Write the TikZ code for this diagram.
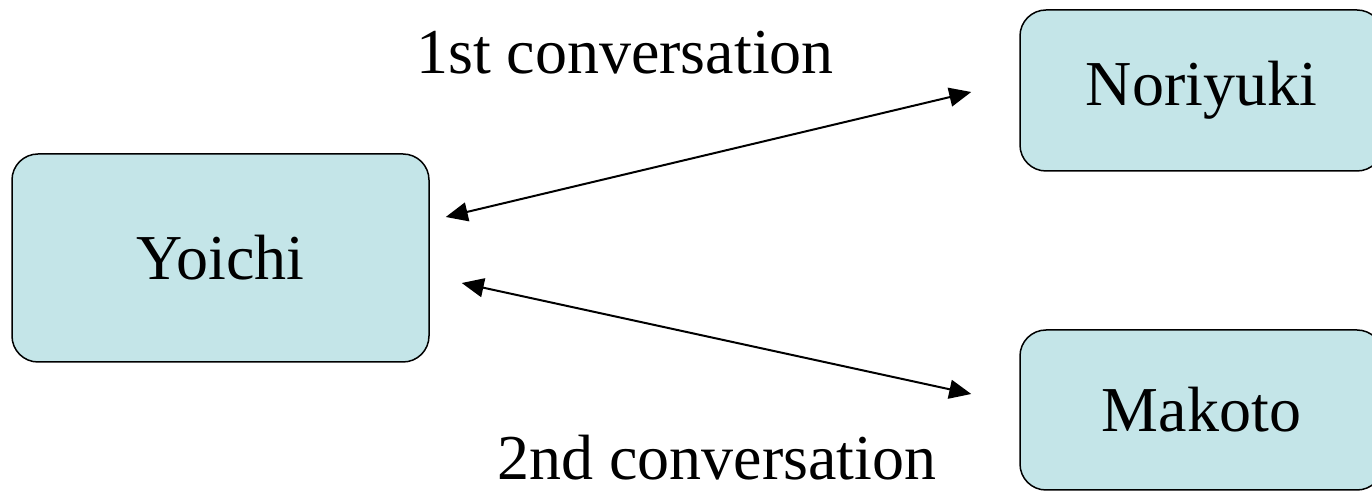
\documentclass[tikz,border=0pt]{standalone}
\usepackage{fontspec}
\setmainfont{Liberation Serif}
\usetikzlibrary{arrows.meta}
\definecolor{boxfill}{RGB}{196,229,232}
\tikzset{
  person/.style={draw=black, line width=0.75pt, fill=boxfill, rounded corners=13pt,
    inner sep=0pt, font=\fontsize{32}{38}\selectfont},
  talk/.style={line width=1pt, {Triangle[length=11pt,width=9.5pt]}-{Triangle[length=11pt,width=9.5pt]}},
  lbl/.style={font=\fontsize{32}{38}\selectfont, inner sep=0pt, anchor=base}
}
\begin{document}
\begin{tikzpicture}[x=0.5pt,y=-0.5pt]
\useasboundingbox (0,0) rectangle (1372,491);
\node[person, minimum width=208.5pt, minimum height=104pt] (yo) at (220.5,258) {Yoichi};
\node[person, minimum width=181.5pt, minimum height=80.5pt] (no) at (1201.5,90.5) {Noriyuki};
\node[person, minimum width=181.5pt, minimum height=80pt] (ma) at (1201.5,410) {Makoto};
\node[lbl] (l1) at (625,74) {1st conversation};
\node[lbl] (l2) at (717,480) {2nd conversation};
\draw[talk] ([shift={(16,-41)}]yo.east) -- ([shift={(-48,1.5)}]no.west);
\draw[talk] ([shift={(32,25)}]yo.east) -- ([shift={(-48,-16)}]ma.west);
\end{tikzpicture}
\end{document}
